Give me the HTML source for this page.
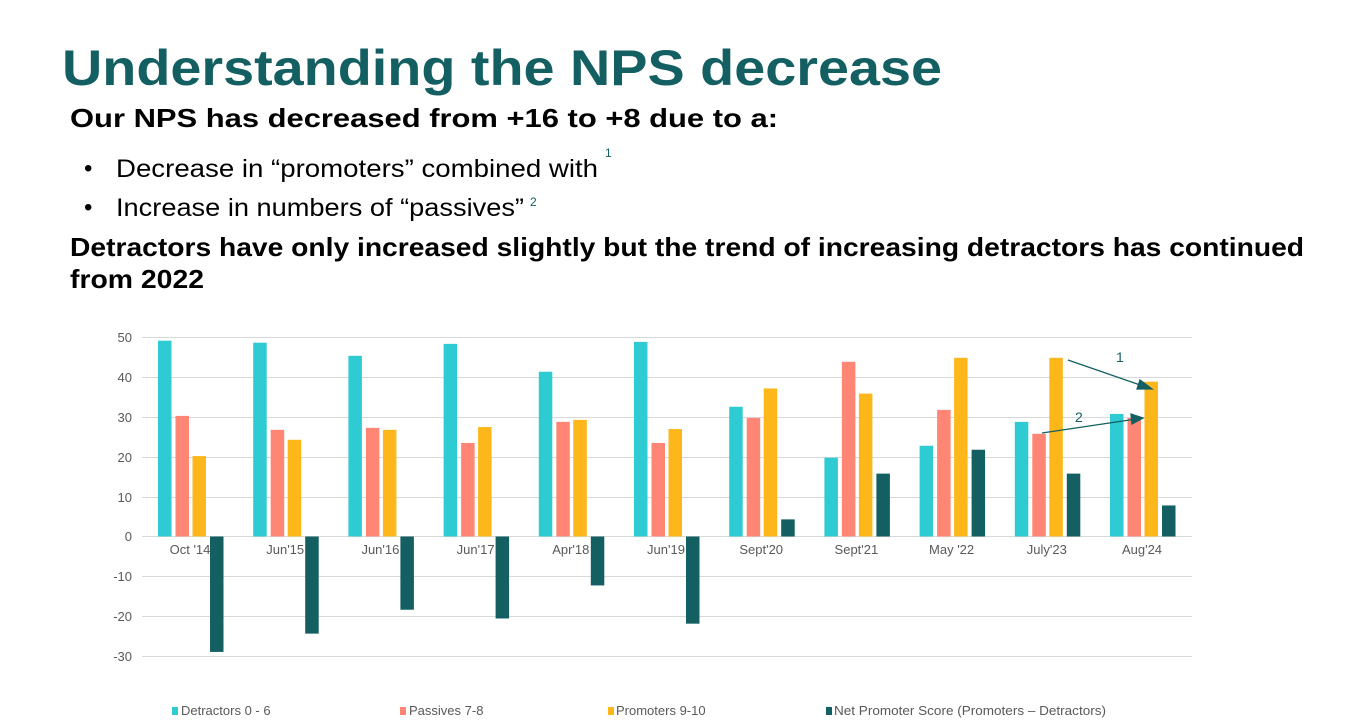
<!DOCTYPE html>
<html><head><meta charset="utf-8"><style>
html,body{margin:0;padding:0;background:#fff;}
svg{display:block;}
</style></head><body>
<svg width="1368" height="727" xmlns="http://www.w3.org/2000/svg" font-family="Liberation Sans, sans-serif">
<text x="62" y="85" font-size="50" font-weight="bold" fill="#135f62" textLength="880" lengthAdjust="spacingAndGlyphs">Understanding the NPS decrease</text>
<text x="70" y="127" font-size="26" font-weight="bold" fill="#000" textLength="708" lengthAdjust="spacingAndGlyphs">Our NPS has decreased from +16 to +8 due to a:</text>
<text x="84" y="176" font-size="24" fill="#000">•</text>
<text x="116" y="177" font-size="25" fill="#000" textLength="482" lengthAdjust="spacingAndGlyphs">Decrease in “promoters” combined with</text>
<text x="605" y="157" font-size="12" fill="#135f62">1</text>
<text x="84" y="215" font-size="24" fill="#000">•</text>
<text x="116" y="216" font-size="25" fill="#000" textLength="408" lengthAdjust="spacingAndGlyphs">Increase in numbers of “passives”</text>
<text x="530" y="206" font-size="12" fill="#135f62">2</text>
<text x="70" y="256" font-size="26" font-weight="bold" fill="#000" textLength="1234" lengthAdjust="spacingAndGlyphs">Detractors have only increased slightly but the trend of increasing detractors has continued</text>
<text x="70" y="288" font-size="26" font-weight="bold" fill="#000" textLength="134" lengthAdjust="spacingAndGlyphs">from 2022</text>
<g stroke="#d9d9d9" stroke-width="1">
<line x1="142" x2="1192" y1="337.5" y2="337.5"/><line x1="142" x2="1192" y1="377.5" y2="377.5"/><line x1="142" x2="1192" y1="417.5" y2="417.5"/><line x1="142" x2="1192" y1="457.5" y2="457.5"/><line x1="142" x2="1192" y1="497.5" y2="497.5"/><line x1="142" x2="1192" y1="536.5" y2="536.5"/><line x1="142" x2="1192" y1="576.5" y2="576.5"/><line x1="142" x2="1192" y1="616.5" y2="616.5"/><line x1="142" x2="1192" y1="656.5" y2="656.5"/>
</g>
<g font-size="13" fill="#595959" text-anchor="end">
<text x="132" y="342">50</text><text x="132" y="382">40</text><text x="132" y="422">30</text><text x="132" y="462">20</text><text x="132" y="502">10</text><text x="132" y="541">0</text><text x="132" y="581">-10</text><text x="132" y="621">-20</text><text x="132" y="661">-30</text>
</g>
<g id="bars"></g>
<g font-size="13" fill="#595959" text-anchor="middle" id="labels"></g>
<g stroke="#135f62" stroke-width="1.3" fill="#135f62">
<line x1="1068" y1="360" x2="1143" y2="386"/><polygon points="1152,389 1140,380 1137,389"/>
<line x1="1042" y1="433" x2="1133" y2="419.5"/><polygon points="1143,418 1131,414 1132,424"/>
</g>
<text x="1116" y="362" font-size="14" fill="#135f62">1</text>
<text x="1075" y="422" font-size="14" fill="#135f62">2</text>
<g font-size="13" fill="#595959">
<rect x="172" y="707" width="6" height="8" fill="#2ecbd3"/><text x="181" y="715">Detractors  0 - 6</text>
<rect x="400" y="707" width="6" height="8" fill="#ff8674"/><text x="409" y="715">Passives  7-8</text>
<rect x="608" y="707" width="6" height="8" fill="#fdb71a"/><text x="616" y="715">Promoters 9-10</text>
<rect x="826" y="707" width="6" height="8" fill="#135f62"/><text x="834" y="715" textLength="272" lengthAdjust="spacingAndGlyphs">Net Promoter Score (Promoters – Detractors)</text>
</g>
<script>
var d=[[49.2,30.3,20.2,-29],[48.7,26.8,24.3,-24.4],[45.4,27.3,26.8,-18.4],[48.4,23.5,27.5,-20.6],[41.4,28.8,29.3,-12.3],[48.9,23.5,27,-21.9],[32.6,29.8,37.2,4.3],[19.8,43.9,35.9,15.8],[22.8,31.8,44.9,21.8],[28.8,25.8,44.9,15.8],[30.8,29.8,38.9,7.8]];
var L=["Oct '14","Jun'15","Jun'16","Jun'17","Apr'18","Jun'19","Sept'20","Sept'21","May '22","July'23","Aug'24"];
var C=["#2ecbd3","#ff8674","#fdb71a","#135f62"],off=[0,17.5,34.5,52];
var ns="http://www.w3.org/2000/svg",b=document.getElementById("bars"),l=document.getElementById("labels");
var z=536.5,s=3.98;
d.forEach(function(r,g){var x0=158+g*95.2;r.forEach(function(v,i){var e=document.createElementNS(ns,"rect");var h=Math.abs(v)*s;e.setAttribute("x",x0+off[i]);e.setAttribute("width",13.5);e.setAttribute("y",v>=0?z-h:z);e.setAttribute("height",h);e.setAttribute("fill",C[i]);b.appendChild(e);});
var t=document.createElementNS(ns,"text");t.setAttribute("x",190+g*95.2);t.setAttribute("y",554);t.textContent=L[g];l.appendChild(t);});
</script>
</svg>
</body></html>
